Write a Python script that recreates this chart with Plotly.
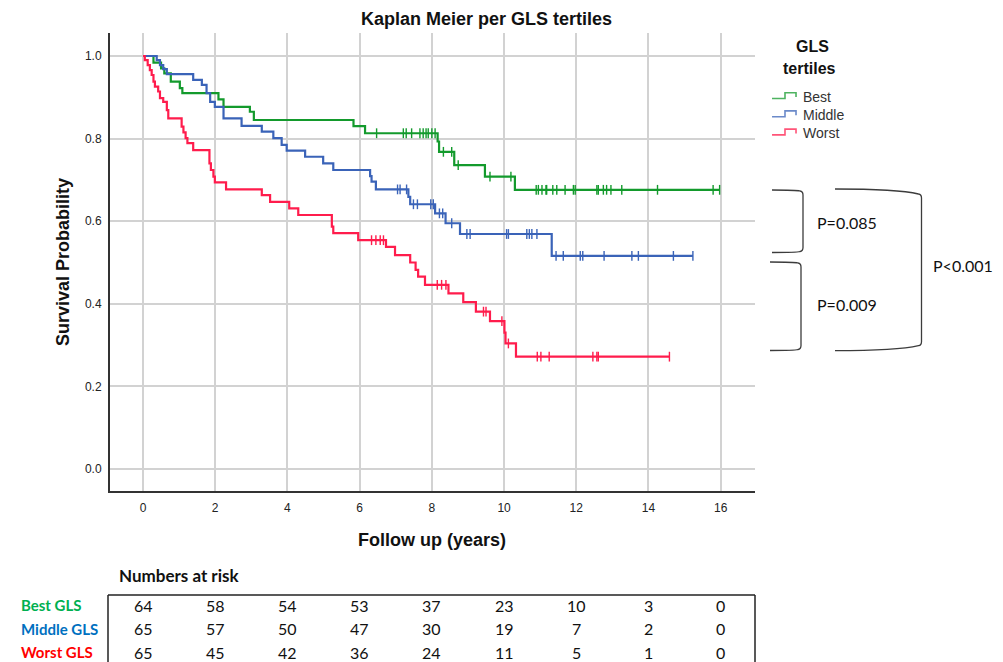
import plotly.graph_objects as go

# ---- survival data (event times in years, survival after each event) ----
best_times = [0.29, 0.50, 0.59, 0.77, 1.02, 1.09, 2.09, 2.23, 2.96, 3.07, 5.83, 6.15,
              8.16, 8.20, 8.62, 9.47, 10.30]
best_surv = [0.984, 0.970, 0.958, 0.938, 0.922, 0.910, 0.895, 0.877, 0.865, 0.845, 0.830, 0.813,
             0.793, 0.768, 0.736, 0.708, 0.676]
best_censor = [6.47, 7.21, 7.29, 7.44, 7.67, 7.76, 7.84, 7.90, 8.00, 8.09, 8.32, 8.55, 8.73,
               9.61, 10.19, 10.89, 10.95, 11.05, 11.16, 11.18, 11.35, 11.46, 11.69, 11.92,
               11.97, 12.57, 12.61, 12.75, 12.84, 12.96, 13.26, 14.25, 15.79, 15.97]

middle_times = [0.38, 0.47, 0.56, 0.66, 1.39, 1.63, 1.76, 1.86, 1.99, 2.23, 2.73, 3.29, 3.61,
                3.84, 3.98, 4.49, 4.99, 5.27, 6.29, 6.33, 6.45, 7.35, 7.40, 8.09, 8.38, 8.78,
                11.32]
middle_surv = [0.990, 0.978, 0.968, 0.956, 0.942, 0.930, 0.910, 0.889, 0.877, 0.849, 0.831,
               0.817, 0.801, 0.785, 0.771, 0.756, 0.740, 0.724, 0.709, 0.696, 0.677, 0.659,
               0.641, 0.619, 0.595, 0.569, 0.516]
middle_censor = [7.05, 7.12, 7.30, 7.49, 7.60, 7.97, 8.04, 8.21, 8.30, 8.55, 8.97, 9.06, 10.07,
                 10.12, 10.63, 10.70, 10.77, 10.91, 11.44, 11.64, 12.11, 12.18, 12.77, 13.54,
                 13.72, 14.69, 15.23]

worst_times = [0.05, 0.13, 0.19, 0.24, 0.29, 0.33, 0.42, 0.47, 0.56, 0.66, 0.70, 1.07, 1.12,
               1.18, 1.23, 1.39, 1.84, 1.88, 1.95, 1.99, 2.30, 3.29, 3.52, 4.05, 4.30, 5.23,
               5.27, 5.96, 6.73, 6.98, 7.40, 7.55, 7.62, 7.81, 8.46, 8.87, 9.22, 9.61, 10.01,
               10.04, 10.33]
worst_surv = [0.990, 0.978, 0.966, 0.954, 0.938, 0.926, 0.914, 0.898, 0.889, 0.869, 0.849,
              0.829, 0.815, 0.801, 0.789, 0.772, 0.740, 0.724, 0.708, 0.694, 0.677, 0.663,
              0.647, 0.631, 0.615, 0.587, 0.571, 0.554, 0.538, 0.518, 0.500, 0.482, 0.466,
              0.446, 0.425, 0.404, 0.381, 0.358, 0.330, 0.304, 0.272]
worst_censor = [6.33, 6.45, 6.57, 6.66, 8.15, 8.27, 8.39, 9.43, 9.50, 9.94, 10.12, 10.92,
                11.02, 11.25, 12.46, 12.57, 12.61, 14.58]

group_names = ["Best", "Middle", "Worst"]
row_labels = ["Best GLS", "Middle GLS", "Worst GLS"]
risk_times = [0, 2, 4, 6, 8, 10, 12, 14, 16]
risk_best = [64, 58, 54, 53, 37, 23, 10, 3, 0]
risk_middle = [65, 57, 50, 47, 30, 19, 7, 2, 0]
risk_worst = [65, 45, 42, 36, 24, 11, 5, 1, 0]
p_values = ["P=0.085", "P=0.009", "P<0.001"]

# ---- styling ----
line_colors = ["#139a2c", "#3a63b8", "#ff1c4c"]
label_colors = ["#00b050", "#0070c0", "#ff0000"]
SANS = "Liberation Sans, Arial, sans-serif"
HUMAN = "Lato, Noto Sans, sans-serif"

W, H = 1003, 662
ML, MR, MT, MB = 110, 248, 33, 171
PW, PH = W - ML - MR, H - MT - MB


def px(X):
    return (X - ML) / PW


def py(Y):
    return (H - MB - Y) / PH


def step_at(t, times, surv):
    s = 1.0
    for ti, si in zip(times, surv):
        if ti <= t:
            s = si
    return s


def label(text, X, Y, size, family=SANS, color="#111", anchor="center", angle=0, xref="paper"):
    return dict(text=text, x=(px(X) if xref == "paper" else X), y=py(Y), xref=xref, yref="paper",
                xanchor=anchor, yanchor="middle", showarrow=False, textangle=angle,
                font=dict(family=family, size=size, color=color))


fig = go.Figure()

groups = [
    (best_times, best_surv, best_censor),
    (middle_times, middle_surv, middle_censor),
    (worst_times, worst_surv, worst_censor),
]

for (times, surv, cens), name, col in zip(groups, group_names, line_colors):
    end = max(cens)
    xs = [0] + times + [end]
    ys = [1.0] + surv + [surv[-1]]
    fig.add_trace(go.Scatter(x=xs, y=ys, mode="lines", line=dict(color=col, width=2.2, shape="hv"),
                             name=name, showlegend=False, hoverinfo="skip"))
    fig.add_trace(go.Scatter(x=cens, y=[step_at(c, times, surv) for c in cens], mode="markers",
                             marker=dict(symbol="line-ns", size=7, line=dict(color=col, width=1.4)),
                             showlegend=False, hoverinfo="skip"))

annotations = []
shapes = []

# title and axis titles
annotations.append(label("<b>Kaplan Meier per GLS tertiles</b>", 487, 19, 18))
annotations.append(label("<b>Follow up (years)</b>", 432, 540, 18))
annotations.append(label("<b>Survival Probability</b>", 63, 262, 18, angle=-90))

# legend block
annotations.append(label("<b>GLS</b>", 812, 47, 16))
annotations.append(label("<b>tertiles</b>", 809, 68, 16))
for i, (name, col) in enumerate(zip(group_names, line_colors)):
    yc = 96.5 + i * 18.2
    annotations.append(label(name, 801, yc, 14, color="#333", anchor="left"))
    path = "M {:.4f},{:.4f} L {:.4f},{:.4f} L {:.4f},{:.4f} L {:.4f},{:.4f} L {:.4f},{:.4f}".format(
        px(772), py(yc + 2), px(785), py(yc + 2), px(785), py(yc - 3.8), px(796), py(yc - 3.8),
        px(796), py(yc + 0.5))
    shapes.append(dict(type="path", path=path, xref="paper", yref="paper",
                       line=dict(color=col, width=1.6), opacity=0.75))


def bracket(x0, y0, x1, y1, top_bow=0.0):
    r = 5
    return ("M {a},{b} C {c},{d} {e},{f} {g},{h} Q {i},{j} {i},{k} L {i},{l} Q {i},{m} {g},{n} "
            "C {e},{o} {c},{p} {a},{q}").format(
        a=px(x0), b=py(y0),
        c=px(x0 + (x1 - x0) * 0.5), d=py(y0),
        e=px(x1 - (x1 - x0) * 0.2), f=py(y0 + top_bow * 0.4),
        g=px(x1 - 3), h=py(y0 + 1 + top_bow),
        i=px(x1), j=py(y0 + 1.5 + top_bow), k=py(y0 + r + top_bow),
        l=py(y1 - r - top_bow), m=py(y1 - 1.5 - top_bow), n=py(y1 - 1 - top_bow),
        o=py(y1 - top_bow * 0.4), p=py(y1), q=py(y1))


shapes.append(dict(type="path", path=bracket(772, 190, 803, 252.5), xref="paper", yref="paper",
                   line=dict(color="#3c3c3c", width=1.3)))
shapes.append(dict(type="path", path=bracket(770, 262, 801, 350.5), xref="paper", yref="paper",
                   line=dict(color="#3c3c3c", width=1.3)))
shapes.append(dict(type="path", path=bracket(835, 189, 921.5, 350.7, top_bow=4), xref="paper",
                   yref="paper", line=dict(color="#3c3c3c", width=1.3)))

for txt, X, Y in zip(p_values, [815, 815, 931], [223, 304, 265]):
    annotations.append(label(txt, X, Y, 16, family=HUMAN, anchor="left"))

# numbers-at-risk table
annotations.append(label("<b>Numbers at risk</b>", 117, 575, 17, family=HUMAN, anchor="left"))
for i, (lab, col, row) in enumerate(zip(row_labels, label_colors,
                                        [risk_best, risk_middle, risk_worst])):
    yc = 605 + i * 23.5
    annotations.append(label("<b>" + lab + "</b>", 19, yc, 15, family=HUMAN, color=col,
                             anchor="left"))
    for t, v in zip(risk_times, row):
        annotations.append(label(str(v), t, yc, 16, family=HUMAN, xref="x"))

box = dict(color="#222", width=1.5)
shapes.append(dict(type="line", xref="paper", yref="paper", x0=px(108), x1=px(108),
                   y0=py(595), y1=py(670), line=box))
shapes.append(dict(type="line", xref="paper", yref="paper", x0=px(108), x1=px(755),
                   y0=py(595), y1=py(595), line=box))
shapes.append(dict(type="line", xref="paper", yref="paper", x0=px(755), x1=px(755),
                   y0=py(595), y1=py(670), line=box))

fig.update_layout(
    width=W, height=H,
    margin=dict(l=ML, r=MR, t=MT, b=MB, pad=0),
    paper_bgcolor="white", plot_bgcolor="white",
    showlegend=False,
    annotations=annotations,
    shapes=shapes,
    xaxis=dict(range=[-0.914, 16.95], tickvals=risk_times, ticktext=[str(t) for t in risk_times],
               showgrid=True, gridcolor="#d2d2d2", gridwidth=1.6, zeroline=False,
               showline=True, linecolor="#333", linewidth=2,
               ticks="outside", ticklen=5, tickcolor="rgba(0,0,0,0)",
               tickfont=dict(family=SANS, size=12, color="#222"), fixedrange=True),
    yaxis=dict(range=[-0.0533, 1.0557], tickvals=[0, 0.2, 0.4, 0.6, 0.8, 1.0],
               ticktext=["0.0", "0.2", "0.4", "0.6", "0.8", "1.0"],
               showgrid=True, gridcolor="#d2d2d2", gridwidth=1.6, zeroline=False,
               showline=True, linecolor="#333", linewidth=2,
               ticks="outside", ticklen=4, tickcolor="rgba(0,0,0,0)",
               tickfont=dict(family=SANS, size=12, color="#222"), fixedrange=True),
)

fig.write_html("out.html")
